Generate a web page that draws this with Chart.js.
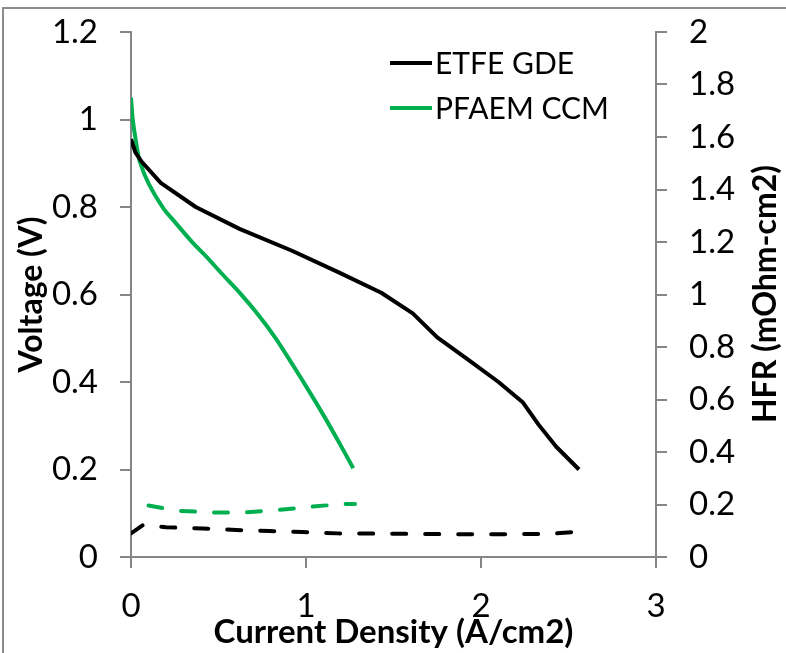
<!DOCTYPE html>
<html>
<head>
<meta charset="utf-8">
<script src="https://cdn.jsdelivr.net/npm/chart.js@4.4.1/dist/chart.umd.min.js"></script>
<style>
html, body { margin: 0; padding: 0; background: #fff; }
#wrap { width: 786px; height: 653px; }
</style>
</head>
<body>
<div id="wrap"><canvas id="chart" width="786" height="653"></canvas></div>
<script>
// polarisation curves (current density A/cm2 -> voltage V)
const etfeJ = [0, 0.025, 0.06, 0.17, 0.37, 0.62, 0.92, 1.19, 1.43, 1.61, 1.75, 1.93, 2.10, 2.24, 2.33, 2.43, 2.56];
const etfeV = [0.955, 0.925, 0.904, 0.855, 0.80, 0.75, 0.70, 0.65, 0.604, 0.557, 0.502, 0.45, 0.40, 0.353, 0.302, 0.252, 0.20];

const ccmJ = [0, 0.01, 0.033, 0.05, 0.10, 0.185, 0.25, 0.347, 0.432, 0.518, 0.623, 0.728, 0.823, 0.918, 1.013, 1.109, 1.194, 1.27];
const ccmV = [1.05, 1.0, 0.938, 0.904, 0.854, 0.797, 0.766, 0.721, 0.686, 0.648, 0.603, 0.553, 0.502, 0.443, 0.382, 0.318, 0.258, 0.203];

// high frequency resistance (right axis)
const etfeHfrJ = [0, 0.07, 0.2, 0.41, 0.6, 0.79, 0.98, 1.18, 1.4, 1.6, 1.8, 2.0, 2.2, 2.39, 2.57];
const etfeHfr = [0.09, 0.122, 0.113, 0.109, 0.103, 0.099, 0.095, 0.09, 0.089, 0.088, 0.087, 0.087, 0.087, 0.088, 0.097];

const ccmHfrJ = [0.1, 0.27, 0.46, 0.65, 0.84, 1.03, 1.22, 1.28];
const ccmHfr = [0.196, 0.176, 0.17, 0.17, 0.179, 0.192, 0.202, 0.202];

const seriesNames = ['ETFE GDE', 'PFAEM CCM'];
const xTitle = 'Current Density (A/cm2)';
const yTitle = 'Voltage (V)';
const y1Title = 'HFR (mOhm-cm2)';

const BLACK = '#000000';
const GREEN = '#00b050';
const AXIS = '#868686';

function pts(xs, ys) {
    return xs.map(function (x, i) { return { x: x, y: ys[i] }; });
}

// 1 instead of 1.0, like the original
function shortNum(v) {
    return String(Number(v.toFixed(1)));
}

Chart.defaults.font.family = 'Lato, "Open Sans", sans-serif';
Chart.defaults.color = '#000';

// frame, legend inside plot, right axis title (reads bottom to top)
const decor = {
    id: 'decor',
    afterDraw(chart) {
        const ctx = chart.ctx;
        ctx.save();
        ctx.strokeStyle = '#8c8c8c';
        ctx.lineWidth = 2;
        ctx.beginPath();
        ctx.moveTo(3, 660);
        ctx.lineTo(3, 8);
        ctx.lineTo(790, 8);
        ctx.stroke();

        ctx.font = '30px Lato';
        ctx.textBaseline = 'middle';
        ctx.textAlign = 'left';
        chart.data.datasets.slice(0, 2).forEach(function (ds, i) {
            const y = 63 + i * 45;
            ctx.strokeStyle = ds.borderColor;
            ctx.lineWidth = 4;
            ctx.lineCap = 'butt';
            ctx.beginPath();
            ctx.moveTo(390, y);
            ctx.lineTo(432, y);
            ctx.stroke();
            ctx.fillStyle = '#000';
            ctx.fillText(ds.label, 435, y + 1);
        });

        ctx.translate(766, 294);
        ctx.rotate(-Math.PI / 2);
        ctx.font = 'bold 32px Lato';
        ctx.textAlign = 'center';
        ctx.fillText(y1Title, 0, 0);
        ctx.restore();
    }
};

const axisGrid = { drawOnChartArea: false, tickLength: 11, color: AXIS, lineWidth: 2 };
const axisBorder = { color: AXIS, width: 2 };

new Chart(document.getElementById('chart'), {
    type: 'line',
    data: {
        datasets: [
            { label: seriesNames[0], data: pts(etfeJ, etfeV), borderColor: BLACK, yAxisID: 'y', tension: 0 },
            { label: seriesNames[1], data: pts(ccmJ, ccmV), borderColor: GREEN, yAxisID: 'y', tension: 0.3 },
            { label: seriesNames[0] + ' HFR', data: pts(etfeHfrJ, etfeHfr), borderColor: BLACK, yAxisID: 'y1', borderDash: [14, 19], borderCapStyle: 'round' },
            { label: seriesNames[1] + ' HFR', data: pts(ccmHfrJ, ccmHfr), borderColor: GREEN, yAxisID: 'y1', borderDash: [14, 19], borderCapStyle: 'round' }
        ]
    },
    options: {
        responsive: false,
        animation: false,
        elements: {
            point: { radius: 0 },
            line: { borderWidth: 4, fill: false, borderJoinStyle: 'round' }
        },
        layout: { padding: { top: 32, left: 0, right: 0, bottom: 0 } },
        plugins: {
            legend: { display: false },
            tooltip: { enabled: false }
        },
        scales: {
            x: {
                type: 'linear',
                min: 0, max: 3,
                ticks: { stepSize: 1, padding: 19, font: { size: 33 } },
                grid: axisGrid,
                border: axisBorder,
                title: { display: true, text: xTitle, font: { size: 33, weight: 'bold' }, padding: { top: 0, bottom: 1 } },
                afterFit(s) { s.height = 96; s.paddingLeft = 0; s.paddingRight = 0; }
            },
            y: {
                position: 'left',
                min: 0, max: 1.2,
                ticks: { stepSize: 0.2, padding: 22, font: { size: 33 }, callback: shortNum },
                grid: axisGrid,
                border: axisBorder,
                title: { display: true, text: yTitle, font: { size: 32, weight: 'bold' }, padding: { top: 12, bottom: 0 } },
                afterFit(s) { s.width = 131; s.paddingTop = 0; s.paddingBottom = 0; }
            },
            y1: {
                position: 'right',
                min: 0, max: 2,
                ticks: { stepSize: 0.2, padding: 22, font: { size: 33 }, callback: shortNum },
                grid: axisGrid,
                border: axisBorder,
                afterFit(s) { s.width = 130; s.paddingTop = 0; s.paddingBottom = 0; }
            }
        }
    },
    plugins: [decor]
});
</script>
</body>
</html>
